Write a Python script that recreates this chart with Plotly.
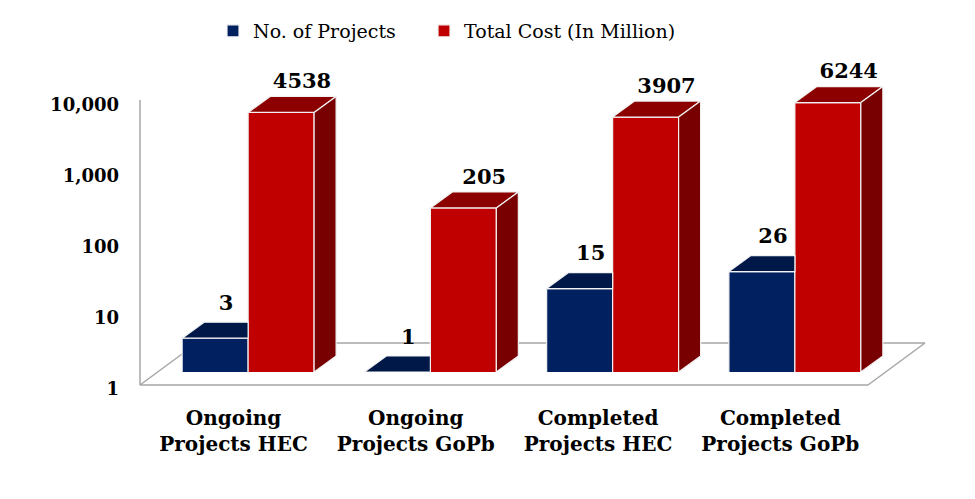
import numpy as np
import plotly.graph_objects as go

# ---------------- data ----------------
categories = ["Ongoing<br>Projects HEC", "Ongoing<br>Projects GoPb",
              "Completed<br>Projects HEC", "Completed<br>Projects GoPb"]
projects = [3, 1, 15, 26]
total_cost = [4538, 205, 3907, 6244]
series_names = ["No. of Projects", "Total Cost (In Million)"]
y_tickvals = [1, 10, 100, 1000, 10000]
y_ticktext = ["1", "10", "100", "1,000", "10,000"]

# ---------------- style / layout ----------------
OFF = 8                             # page body margin of the html page
W, H = 975 - OFF, 499 - OFF
ML, MR, MT, MB = 157 - OFF, 89, 81 - OFF, 127
PW, PH = W - ML - MR, H - MT - MB
XR = [-0.5, 3.5]
YR = [0, 4.1]                       # log10 range
px_per_x = PW / (XR[1] - XR[0])
px_per_dec = PH / (YR[1] - YR[0])

BAR_W = 0.362
DEPTH_PX = (22, 16)                 # 3D depth offset in pixels
dx = DEPTH_PX[0] / px_per_x
kf = 10 ** (DEPTH_PX[1] / px_per_dec)
BLUE_LABEL_LIFT = 10 ** (7 / px_per_dec)
RED_LABEL_LIFT = 10 ** (3 / px_per_dec)

BLUE_FRONT, BLUE_TOP = "#002060", "#001848"
RED_FRONT, RED_TOP, RED_SIDE = "#C00000", "#8C0000", "#780000"
EDGE = "#F2F2F2"
SERIF = "DejaVu Serif"

x_idx = np.arange(len(categories))

fig = go.Figure()
fig.add_trace(go.Bar(x=x_idx, y=projects, name=series_names[0], legend="legend",
                     marker=dict(color=BLUE_FRONT, line=dict(color=EDGE, width=1.2))))
fig.add_trace(go.Bar(x=x_idx, y=total_cost, name=series_names[1], legend="legend2",
                     marker=dict(color=RED_FRONT, line=dict(color=EDGE, width=1.2))))


def poly_trace(polys, color):
    xs, ys = [], []
    for p in polys:
        for (a, b) in p:
            xs.append(a)
            ys.append(b)
        xs.append(p[0][0]); ys.append(p[0][1])
        xs.append(None); ys.append(None)
    return go.Scatter(x=xs, y=ys, mode="lines", fill="toself", fillcolor=color,
                      line=dict(color=EDGE, width=1.2), showlegend=False,
                      hoverinfo="skip")


blue_tops, red_tops, red_sides = [], [], []
for i in x_idx:
    # blue bar: left half of the group
    bl, br = i - BAR_W, i
    v = projects[i]
    right = min(br + dx, i)          # rest is hidden behind the red bar beside it
    blue_tops.append([(bl, v), (bl + dx, v * kf), (right, v * kf), (br, v)])
    # red bar: right half
    rl, rr = i, i + BAR_W
    v = total_cost[i]
    red_tops.append([(rl, v), (rl + dx, v * kf), (rr + dx, v * kf), (rr, v)])
    red_sides.append([(rr, v), (rr + dx, v * kf), (rr + dx, kf), (rr, 1)])

fig.add_trace(poly_trace(blue_tops, BLUE_TOP))
fig.add_trace(poly_trace(red_tops, RED_TOP))
fig.add_trace(poly_trace(red_sides, RED_SIDE))

# data labels
lab_font = dict(family=SERIF, size=21, color="black", weight="bold")
fig.add_trace(go.Scatter(
    x=x_idx - BAR_W / 2 + dx / 2, y=[v * kf * BLUE_LABEL_LIFT for v in projects],
    mode="text", text=[str(v) for v in projects], textposition="top center",
    textfont=lab_font, showlegend=False, cliponaxis=False, hoverinfo="skip"))
fig.add_trace(go.Scatter(
    x=x_idx + BAR_W / 2 + dx * 0.95, y=[v * kf * RED_LABEL_LIFT for v in total_cost],
    mode="text", text=[str(v) for v in total_cost], textposition="top center",
    textfont=lab_font, showlegend=False, cliponaxis=False, hoverinfo="skip"))


# floor / wall outline (decoration; paper coordinates from target pixel positions)
def pxx(p):
    return (p - OFF - ML) / PW


def pxy(p):
    return (H - MB - (p - OFF)) / PH


floor_lines = [
    ((140, 100), (140, 385)),
    ((140, 385), (868, 385)),
    ((868, 385), (925, 343)),
    ((197, 343), (925, 343)),
    ((140, 385), (197, 343)),
]
shapes = []
for (a, b) in floor_lines:
    shapes.append(dict(type="line", xref="paper", yref="paper",
                       x0=pxx(a[0]), y0=pxy(a[1]), x1=pxx(b[0]), y1=pxy(b[1]),
                       line=dict(color="#A6A6A6", width=1.5), layer="below"))

leg_common = dict(orientation="h", xanchor="left", yanchor="top", y=pxy(12),
                  font=dict(family=SERIF, size=19, color="black"),
                  bgcolor="rgba(0,0,0,0)")

fig.update_layout(
    width=W, height=H,
    margin=dict(l=ML, r=MR, t=MT, b=MB, pad=0, autoexpand=False),
    paper_bgcolor="white", plot_bgcolor="white",
    barmode="group", bargap=1 - 2 * BAR_W, bargroupgap=0,
    shapes=shapes,
    showlegend=True,
    legend=dict(x=pxx(213), **leg_common),
    legend2=dict(x=pxx(424), **leg_common),
    xaxis=dict(range=XR, tickvals=x_idx - 0.08, ticktext=categories,
               showgrid=False, zeroline=False, showline=False, ticks="",
               ticklabelstandoff=32,
               tickfont=dict(family=SERIF, size=20, color="black", weight="bold")),
    yaxis=dict(type="log", range=YR, tickvals=y_tickvals, ticktext=y_ticktext,
               showgrid=False, zeroline=False, showline=False, ticks="",
               ticklabelshift=17, ticklabelstandoff=37,
               tickfont=dict(family=SERIF, size=18, color="black", weight="bold")),
)

fig.write_html("out.html")
